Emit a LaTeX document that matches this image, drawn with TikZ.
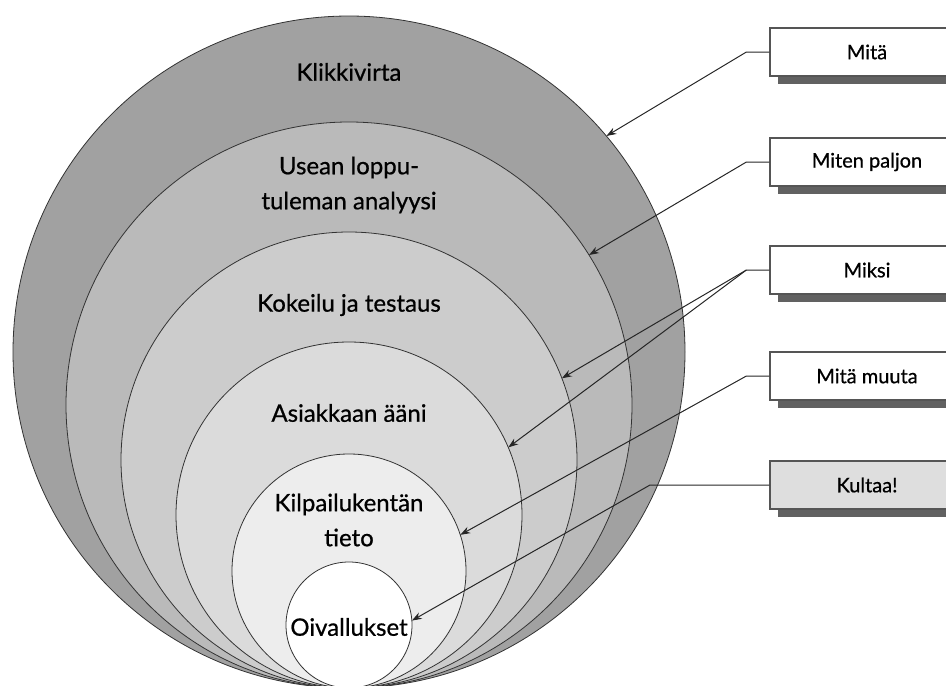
\documentclass[tikz,border=0pt]{standalone}
\usepackage{fontspec}
\setmainfont{Lato}[FakeBold=0.7]
\usetikzlibrary{arrows.meta,shadows,calc}
\definecolor{dg}{HTML}{555555}
\tikzset{
    ring/.style =   {circle,
                    draw=black!80,
                    line width=0.8pt,
                    inner sep=0pt,
                    outer sep=0pt},
    layer/.style =  {text=black,
                    align=center,
                    font=\fontsize{24}{35}\selectfont},
    tag/.style =    {rectangle,
                    fill=white,
                    draw=dg,
                    text=black,
                    line width=1.2pt,
                    minimum width=194pt,
                    minimum height=48pt,
                    font=\fontsize{20}{24}\selectfont,
                    drop shadow={shadow xshift=8pt,shadow yshift=-8pt,fill=black!62,opacity=1}},
    -,
    >={Stealth[length=10pt,width=7pt]},
    pointer/.style = {->,draw=black!85,line width=1pt}}

\begin{document}
\begin{tikzpicture}[x=1pt,y=-1pt]
                    \clip (0,0) rectangle (946,686);
                    % nested rings, all touching at the bottom
                    \node[ring,fill=black!37,minimum size=672pt]  (klikki)  at (349,352) {};
                    \node[ring,fill=black!27,minimum size=566pt]  (usean)   at (349,405) {};
                    \node[ring,fill=black!20,minimum size=456pt]  (kokeilu) at (349,460) {};
                    \node[ring,fill=black!14,minimum size=346pt]  (asiakas) at (349,515) {};
                    \node[ring,fill=black!7,minimum size=234pt]   (kilpa)   at (349,571) {};
                    \node[ring,fill=white,minimum size=126pt]     (oival)   at (349,625) {};

                    \node[layer]  (tklikki)  at (349,72)  {Klikkivirta};
                    \node[layer]  (tusean)   at (349,185) {Usean loppu-\\tuleman analyysi};
                    \node[layer]  (tkokeilu) at (349,305) {Kokeilu ja testaus};
                    \node[layer]  (tasiakas) at (349,413) {Asiakkaan ääni};
                    \node[layer]  (tkilpa)   at (349,520) {Kilpailukentän\\tieto};
                    \node[layer]  (toival)   at (349,627) {Oivallukset};

                    % question boxes
                    \node[tag]                  (mita)   at (867,52)  {Mitä};
                    \node[tag]                  (miten)  at (867,162) {Miten paljon};
                    \node[tag]                  (miksi)  at (867,270) {Miksi};
                    \node[tag]                  (muuta)  at (867,376) {Mitä muuta};
                    \node[tag,fill=black!13]    (kultaa) at (867,485) {Kultaa!};

                    \coordinate (bmita)   at ($(mita.west)+(-23,0)$);
                    \coordinate (bmiten)  at ($(miten.west)+(-23,0)$);
                    \coordinate (bmiksi)  at ($(miksi.west)+(-23,0)$);
                    \coordinate (bmuuta)  at ($(muuta.west)+(-23,0)$);
                    \coordinate (bkultaa) at (650,485);

                    \draw [pointer]  (mita.west)   -- (bmita)   -- (klikki.40.6);
                    \draw [pointer]  (miten.west)  -- (bmiten)  -- (usean.32.3);
                    \draw [pointer]  (miksi.west)  -- (bmiksi)  -- (kokeilu.21.4);
                    \draw [pointer]  (bmiksi)                   -- (asiakas.23.2);
                    \draw [pointer]  (muuta.west)  -- (bmuuta)  -- (kilpa.18.4);
                    \draw [pointer]  (kultaa.west) -- (bkultaa) -- (oival.4.5);
\end{tikzpicture}
\end{document}
